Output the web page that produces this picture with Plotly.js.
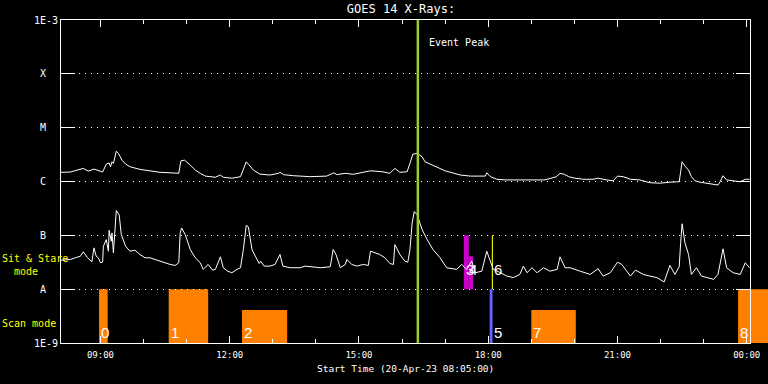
<!DOCTYPE html>
<html>
<head>
<meta charset="utf-8">
<script src="https://cdn.plot.ly/plotly-3.0.1.min.js"></script>
<style>html,body{margin:0;padding:0;background:#000;}#chart{width:768px;height:384px;}</style>
</head>
<body>
<div id="chart"></div>
<script>
// ---------- DATA ----------
const startTime = '08:05';
const endTime = '00:05';
const eventPeakTime = '16:22';

// GOES 14 long channel (1-8 A), W/m^2
const upTime = ['08:05','08:18','08:36','08:43','08:51','09:00','09:03','09:08','09:12','09:14',
 '09:16','09:18','09:22','09:25','09:30','09:35','09:41','09:55','10:09','10:23',
 '10:37','10:49','10:52','10:57','11:05','11:12','11:19','11:26','11:40','11:47',
 '11:51','12:03','12:15','12:19','12:23','12:26','12:33','12:42','12:56','13:08',
 '13:10','13:15','13:29','13:52','14:15','14:25','14:29','14:41','14:52','15:16',
 '15:32','15:43','15:50','15:57','16:07','16:11','16:15','16:21','16:28','16:32',
 '16:46','17:00','17:21','17:35','17:56','17:58','18:03','18:12','18:24','18:44',
 '18:58','19:19','19:35','19:40','19:46','19:52','20:01','20:13','20:26','20:33',
 '20:45','20:54','21:00','21:08','21:18','21:31','21:45','21:59','22:13','22:26',
 '22:28','22:30','22:34','22:39','22:43','22:48','22:55','23:04','23:14','23:20',
 '23:23','23:27','23:32','23:41','23:51','23:58','00:04'];
const upFlux = [1.48e-6,1.50e-6,1.75e-6,1.56e-6,1.70e-6,1.56e-6,1.50e-6,2.10e-6,2.22e-6,1.88e-6,
 2.32e-6,2.17e-6,3.66e-6,3.32e-6,2.49e-6,2.10e-6,1.88e-6,1.68e-6,1.56e-6,1.48e-6,
 1.45e-6,1.42e-6,2.42e-6,2.49e-6,2.02e-6,1.63e-6,1.42e-6,1.26e-6,1.20e-6,1.32e-6,
 1.20e-6,1.15e-6,1.23e-6,1.75e-6,2.32e-6,2.10e-6,1.63e-6,1.37e-6,1.32e-6,1.42e-6,
 1.48e-6,1.34e-6,1.28e-6,1.23e-6,1.26e-6,1.45e-6,1.34e-6,1.42e-6,1.36e-6,1.58e-6,
 1.52e-6,1.42e-6,1.75e-6,1.48e-6,1.52e-6,2.17e-6,3.22e-6,3.32e-6,2.87e-6,2.32e-6,
 1.93e-6,1.58e-6,1.32e-6,1.26e-6,1.26e-6,1.45e-6,1.23e-6,1.10e-6,1.07e-6,1.07e-6,
 1.10e-6,1.07e-6,1.23e-6,1.42e-6,1.36e-6,1.23e-6,1.15e-6,1.10e-6,1.10e-6,1.15e-6,
 1.07e-6,1.03e-6,1.26e-6,1.23e-6,1.10e-6,1.07e-6,9.5e-7,9.3e-7,9.7e-7,9.9e-7,
 1.52e-6,2.32e-6,1.93e-6,1.63e-6,1.23e-6,1.03e-6,9.7e-7,9.3e-7,9.0e-7,8.6e-7,
 9.9e-7,1.28e-6,1.07e-6,1.02e-6,9.9e-7,1.10e-6,1.10e-6];

// GOES 14 short channel (0.5-4 A), W/m^2
const lowTime = ['08:05','08:18','08:25','08:32','08:36','08:42','08:48','08:51','08:54','08:57',
 '09:00','09:03','09:04','09:08','09:11','09:12','09:15','09:16','09:18','09:21',
 '09:22','09:26','09:29','09:35','09:41','09:48','09:55','10:02','10:09','10:16',
 '10:23','10:30','10:37','10:44','10:49','10:51','10:53','10:58','11:05','11:12',
 '11:19','11:23','11:30','11:36','11:40','11:47','11:51','11:57','12:03','12:10',
 '12:15','12:19','12:23','12:26','12:31','12:36','12:41','12:43','12:48','12:56',
 '13:03','13:10','13:14','13:24','13:38','13:45','13:52','14:06','14:20','14:24',
 '14:28','14:34','14:41','14:43','14:50','14:57','15:06','15:13','15:16','15:23',
 '15:29','15:36','15:43','15:48','15:50','15:57','16:04','16:08','16:11','16:14',
 '16:17','16:21','16:28','16:35','16:43','16:53','17:02','17:16','17:23','17:30',
 '17:37','17:42','17:51','17:58','18:03','18:07','18:17','18:26','18:35','18:44',
 '18:49','18:54','19:01','19:08','19:17','19:26','19:36','19:40','19:47','19:54',
 '20:08','20:22','20:33','20:40','20:50','21:00','21:06','21:18','21:25','21:36',
 '21:45','21:55','22:05','22:13','22:20','22:26','22:28','22:30','22:34','22:39',
 '22:43','22:50','22:57','23:04','23:14','23:20','23:27','23:32','23:41','23:51',
 '23:58','00:04'];
const lowFlux = [3.45e-8,3.56e-8,3.83e-8,4.10e-8,4.94e-8,3.83e-8,3.23e-8,5.85e-8,4.10e-8,3.83e-8,
 3.09e-8,3.17e-8,6.27e-8,8.33e-8,5.07e-8,1.24e-7,7.75e-8,1.11e-7,4.73e-8,1.81e-7,
 2.89e-7,2.41e-7,1.03e-7,6.27e-8,5.07e-8,5.29e-8,4.40e-8,3.83e-8,3.83e-8,3.56e-8,
 3.31e-8,3.17e-8,2.88e-8,2.76e-8,3.09e-8,1.11e-7,1.37e-7,1.03e-7,5.45e-8,3.83e-8,
 3.09e-8,2.33e-8,2.88e-8,2.26e-8,2.33e-8,3.99e-8,2.50e-8,2.16e-8,2.02e-8,2.33e-8,
 2.50e-8,5.45e-8,1.53e-7,1.43e-7,5.45e-8,3.99e-8,3.00e-8,3.31e-8,2.68e-8,2.68e-8,
 2.88e-8,4.40e-8,2.68e-8,2.50e-8,2.50e-8,2.68e-8,2.61e-8,2.50e-8,2.61e-8,5.45e-8,
 4.40e-8,2.50e-8,2.88e-8,3.56e-8,2.88e-8,2.68e-8,2.88e-8,2.76e-8,5.07e-8,4.73e-8,
 4.40e-8,3.83e-8,3.00e-8,2.88e-8,6.73e-8,4.40e-8,3.31e-8,3.17e-8,5.45e-8,1.69e-7,
 2.77e-7,2.41e-7,1.27e-7,8.33e-8,5.45e-8,3.83e-8,2.50e-8,2.33e-8,2.88e-8,2.33e-8,
 3.31e-8,2.02e-8,2.16e-8,5.07e-8,3.31e-8,2.33e-8,2.02e-8,1.75e-8,1.64e-8,1.88e-8,
 2.68e-8,2.02e-8,2.50e-8,2.02e-8,2.50e-8,2.16e-8,2.33e-8,3.99e-8,2.50e-8,2.50e-8,
 2.16e-8,1.88e-8,2.40e-8,1.75e-8,2.02e-8,3.17e-8,2.88e-8,1.75e-8,2.26e-8,1.88e-8,
 1.75e-8,1.64e-8,1.36e-8,2.76e-8,1.88e-8,2.61e-8,7.24e-8,1.64e-7,7.24e-8,4.40e-8,
 1.88e-8,2.50e-8,1.75e-8,1.64e-8,1.52e-8,1.88e-8,5.61e-8,2.50e-8,2.02e-8,1.88e-8,
 3.09e-8,2.50e-8];

// Sit & Stare observations (band 1E-8 .. 1E-7)
const sasLabel = ['3','4','6'];
const sasStart = ['17:26','17:33','18:05'];
const sasEnd   = ['17:33','17:39','18:06:30'];
const sasBottom = [1e-8, 1e-8, 1e-8];
const sasTop    = [1e-7, 4.1e-8, 1e-7];
const sasColor  = ['#cc00cc','#cc00cc','#ffff00'];

// Scan observations (band 1E-9 .. 1E-8)
const scanLabel = ['0','1','2','5','7','8'];
const scanStart = ['08:58','10:35','12:17','18:02','19:00','23:48'];
const scanEnd   = ['09:10','11:30','13:20','18:06','20:02','00:45'];
const scanBottom = [1e-9,1e-9,1e-9,1e-9,1e-9,1e-9];
const scanTop    = [1e-8,1e-8,4.1e-9,1e-8,4.1e-9,1e-8];
const scanColor  = ['#ff8000','#ff8000','#ff8000','#6464ff','#ff8000','#ff8000'];

const yTickVals = [1e-9,1e-8,1e-7,1e-6,1e-5,1e-4,1e-3];
const yTickText = ['1E-9','A','B','C','M','X','1E-3'];

// ---------- HELPERS ----------
function toDate(t) {
  const p = t.split(':');
  const h = parseInt(p[0], 10);
  const day = h < 8 ? '2023-04-21' : '2023-04-20';
  return day + ' ' + p[0] + ':' + p[1] + ':' + (p[2] || '00');
}
function toMs(s) {
  const [d, t] = s.split(' ');
  const [Y, M, D] = d.split('-').map(Number);
  const [h, m, sec] = t.split(':').map(Number);
  return Date.UTC(Y, M - 1, D, h, m, sec);
}
function msToStr(ms) {
  return new Date(ms).toISOString().slice(0, 19).replace('T', ' ');
}

const MONO = 'DejaVu Sans Mono, monospace';
const LAB = 'Liberation Sans, Arial, sans-serif';
const margin = {l: 61, r: 0, t: 20, b: 41};
const plotW = 768 - margin.l - margin.r;
const mainW = 689.3;             // width of the framed time axis in px
const dEnd = mainW / plotW;

const x0 = toDate(startTime), x1 = toDate(endTime);
const extEnd = msToStr(toMs(x0) + (toMs(x1) - toMs(x0)) / dEnd);

// ---------- TRACES ----------
const traces = [];
function rect(s, e, b, t, c) {
  traces.push({
    type: 'scatter', mode: 'lines', xaxis: 'x', yaxis: 'y',
    x: [toDate(s), toDate(e), toDate(e), toDate(s), toDate(s)],
    y: [b, b, t, t, b],
    fill: 'toself', fillcolor: c, line: {width: 0, color: c},
    hoverinfo: 'skip'
  });
}
for (let i = 0; i < scanStart.length; i++) rect(scanStart[i], scanEnd[i], scanBottom[i], scanTop[i], scanColor[i]);
for (let i = 0; i < sasStart.length; i++) rect(sasStart[i], sasEnd[i], sasBottom[i], sasTop[i], sasColor[i]);

traces.push({
  type: 'scatter', mode: 'lines', xaxis: 'x2', yaxis: 'y2',
  x: upTime.map(toDate), y: upFlux, line: {color: '#ffffff', width: 1}
});
traces.push({
  type: 'scatter', mode: 'lines', xaxis: 'x2', yaxis: 'y2',
  x: lowTime.map(toDate), y: lowFlux, line: {color: '#ffffff', width: 1}
});
traces.push({
  type: 'scatter', mode: 'lines', xaxis: 'x2', yaxis: 'y2',
  x: [toDate(eventPeakTime), toDate(eventPeakTime)], y: [yTickVals[0], yTickVals[yTickVals.length - 1]],
  line: {color: '#9acd32', width: 2.5}
});

// ---------- ANNOTATIONS ----------
const annotations = [];
annotations.push({
  xref: 'x2', yref: 'y2', x: toDate(eventPeakTime), y: -3.42,
  xanchor: 'left', yanchor: 'middle', xshift: 9, showarrow: false,
  text: 'Event Peak', font: {family: MONO, size: 10, color: '#ffffff'}
});
for (let i = 0; i < scanLabel.length; i++) {
  annotations.push({
    xref: 'x2', yref: 'y2', x: toDate(scanStart[i]), y: Math.log10(scanBottom[i]),
    xanchor: 'left', yanchor: 'bottom', xshift: scanColor[i] === '#6464ff' ? 2 : 0, yshift: 0,
    showarrow: false, text: scanLabel[i], font: {family: LAB, size: 15, color: '#ffffff'}
  });
}
for (let i = 0; i < sasLabel.length; i++) {
  annotations.push({
    xref: 'x2', yref: 'y2', x: toDate(sasStart[i]), y: Math.log10(sasBottom[i]),
    xanchor: 'left', yanchor: 'bottom', xshift: sasLabel[i] === '4' ? -2 : 0, yshift: 9,
    showarrow: false, text: sasLabel[i], font: {family: LAB, size: 15, color: '#ffffff'}
  });
}
annotations.push({
  xref: 'paper', yref: 'y2', x: 0, y: -7.5, xanchor: 'left', yanchor: 'middle',
  xshift: -61, yshift: -3, align: 'left', showarrow: false,
  text: 'Sit &amp; Stare<br>\u00a0\u00a0mode', font: {family: MONO, size: 10, color: '#ffff00'}
});
annotations.push({
  xref: 'paper', yref: 'y2', x: 0, y: -8.5, xanchor: 'left', yanchor: 'middle',
  xshift: -61, yshift: -7, align: 'left', showarrow: false,
  text: 'Scan mode', font: {family: MONO, size: 10, color: '#ffff00'}
});

// ---------- LAYOUT ----------
const layout = {
  width: 768, height: 384,
  paper_bgcolor: '#000000', plot_bgcolor: 'rgba(0,0,0,0)',
  margin: margin, showlegend: false,
  title: {text: 'GOES 14 X-Rays:', x: 401 / 768, xanchor: 'center', y: 1 - 9 / 384, yanchor: 'middle',
          font: {family: MONO, size: 12, color: '#ffffff'}},
  xaxis: {domain: [0, 1], anchor: 'y', type: 'date', range: [x0, extEnd], visible: false, fixedrange: true},
  yaxis: {domain: [0, 1], anchor: 'x', type: 'log', range: [-9, -3], visible: false, fixedrange: true},
  xaxis2: {
    domain: [0, dEnd], anchor: 'y2', type: 'date', range: [x0, x1],
    showline: true, linecolor: '#ffffff', linewidth: 1, mirror: 'ticks',
    ticks: 'inside', ticklen: 7, tickwidth: 1, tickcolor: '#ffffff',
    tick0: '2023-04-20 00:00', dtick: 3 * 3600000, tickformat: '%H:%M',
    minor: {dtick: 3600000, ticks: 'inside', ticklen: 4, tickcolor: '#ffffff', showgrid: false},
    showgrid: false, zeroline: false, ticklabelstandoff: 3,
    tickfont: {family: MONO, size: 9, color: '#ffffff'},
    title: {text: 'Start Time (20-Apr-23 08:05:00)', font: {family: MONO, size: 9.5, color: '#ffffff'}, standoff: 6},
    fixedrange: true
  },
  yaxis2: {
    domain: [0, 1], anchor: 'x2', type: 'log', range: [-9, -3],
    tickmode: 'array', tickvals: yTickVals,
    ticktext: yTickText.map(t => t.length === 1 ? t + '\u00a0\u00a0' : t),
    showline: true, linecolor: '#ffffff', linewidth: 1, mirror: 'ticks',
    ticks: 'inside', ticklen: 14, tickwidth: 1, tickcolor: '#ffffff',
    showgrid: true, gridcolor: '#ffffff', gridwidth: 1, griddash: '1px,5px',
    zeroline: false,
    tickfont: {family: MONO, size: 10, color: '#ffffff'},
    fixedrange: true
  },
  annotations: annotations
};

Plotly.newPlot('chart', traces, layout, {staticPlot: true, displayModeBar: false});
</script>
</body>
</html>
